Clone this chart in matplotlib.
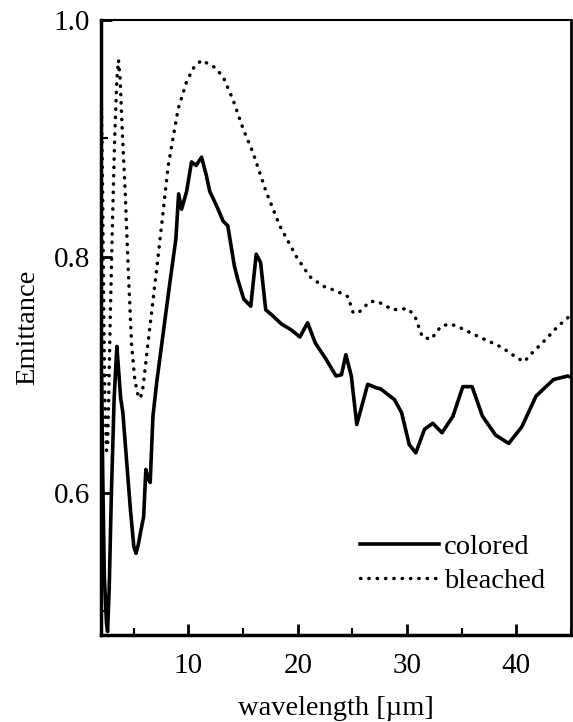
import matplotlib
matplotlib.use("Agg")
import matplotlib.pyplot as plt
from matplotlib.ticker import MultipleLocator

plt.rcParams['font.family'] = ['Liberation Serif', 'DejaVu Serif']

# colored sample
wl_colored = [2.05, 2.15, 2.3, 2.5, 2.6, 2.75, 2.95, 3.2, 3.45, 3.6, 3.8, 4.0, 4.35,
              4.7, 5.0, 5.2, 5.4, 5.6, 5.9, 6.1, 6.3, 6.5, 6.75, 7.1, 7.7, 8.3, 8.85,
              9.1, 9.37, 9.83, 10.28, 10.7, 11.2, 11.65, 11.95, 12.57, 13.17, 13.6,
              14.2, 14.5, 15.06, 15.7, 16.2, 16.6, 17.07, 17.7, 18.5, 19.4, 20.2,
              20.9, 21.6, 22.6, 23.5, 24.0, 24.4, 24.9, 25.4, 26.4, 27.2, 27.6,
              28.85, 29.5, 30.2, 30.8, 31.6, 32.35, 33.2, 34.2, 35.1, 35.95, 36.9,
              38.1, 39.3, 40.5, 41.8, 43.4, 44.7, 45.0]
em_colored = [0.700, 0.620, 0.530, 0.490, 0.483, 0.520, 0.600, 0.680, 0.724, 0.705,
              0.680, 0.668, 0.626, 0.585, 0.555, 0.549, 0.556, 0.566, 0.580, 0.620,
              0.612, 0.609, 0.665, 0.694, 0.736, 0.778, 0.815, 0.853, 0.840, 0.855,
              0.880, 0.877, 0.884, 0.868, 0.855, 0.843, 0.830, 0.826, 0.792, 0.781,
              0.764, 0.758, 0.802, 0.795, 0.755, 0.750, 0.743, 0.738, 0.732, 0.744,
              0.727, 0.713, 0.699, 0.700, 0.717, 0.699, 0.658, 0.692, 0.689, 0.688,
              0.679, 0.668, 0.641, 0.634, 0.654, 0.659, 0.651, 0.665, 0.690, 0.690,
              0.665, 0.649, 0.642, 0.656, 0.682, 0.696, 0.699, 0.698]

# bleached sample
wl_bleached = [2.05, 2.15, 2.25, 2.35, 2.5, 2.6, 2.7, 2.85, 3.05, 3.25, 3.45, 3.6,
               3.75, 3.95, 4.2, 4.5, 4.8, 5.1, 5.4, 5.6, 5.85, 6.3, 7.2, 8.15, 9.06,
               9.83, 10.5, 11.2, 12.4, 13.17, 14.1, 15.0, 15.9, 17.1, 18.35, 19.87,
               21.1, 22.3, 23.5, 24.6, 25.05, 25.5, 26.6, 27.3, 28.7, 30.05, 30.7,
               31.4, 32.2, 33.1, 33.9, 34.6, 36.6, 37.8, 38.7, 39.96, 40.7, 41.5,
               42.7, 43.8, 44.8, 45.0]
em_bleached = [0.925, 0.850, 0.750, 0.680, 0.636, 0.640, 0.680, 0.750, 0.830, 0.900,
               0.950, 0.966, 0.950, 0.905, 0.857, 0.787, 0.725, 0.695, 0.682, 0.680,
               0.690, 0.727, 0.798, 0.877, 0.925, 0.948, 0.960, 0.966, 0.960, 0.952,
               0.932, 0.908, 0.888, 0.855, 0.826, 0.800, 0.783, 0.775, 0.771, 0.766,
               0.753, 0.752, 0.762, 0.762, 0.755, 0.756, 0.750, 0.732, 0.730, 0.741,
               0.743, 0.741, 0.732, 0.727, 0.723, 0.715, 0.711, 0.719, 0.730, 0.741,
               0.749, 0.750]

fig = plt.figure(figsize=(5.73, 7.22), dpi=100)
ax = fig.add_axes([0.1763, 0.1205, 0.8202, 0.8518])

ax.plot(wl_colored, em_colored, color='black', lw=2.6, label='colored')
ax.plot(wl_bleached, em_bleached, color='black', lw=2.5, linestyle=(0, (0.1, 2.3)),
        dash_capstyle='round', label='bleached')

ax.set_xlim(2, 45)
ax.set_ylim(0.48, 1.0)
ax.xaxis.set_major_locator(MultipleLocator(10))
ax.xaxis.set_minor_locator(MultipleLocator(5))
ax.yaxis.set_major_locator(MultipleLocator(0.2))
ax.yaxis.set_minor_locator(MultipleLocator(0.1))
ax.tick_params(which='major', direction='in', length=8, width=2, labelsize=21, pad=13)
ax.tick_params(which='minor', direction='in', length=5, width=1.5)
ax.tick_params(axis='y', which='major', pad=8)

for side in ['left', 'bottom']:
    ax.spines[side].set_linewidth(2.5)
ax.spines['right'].set_linewidth(2)
ax.spines['top'].set_linewidth(1.5)

ax.set_xlabel('wavelength [µm]', fontsize=20.5, labelpad=12)
ax.set_ylabel('Emittance', fontsize=20.5, labelpad=10)

leg = ax.legend(loc='lower right', bbox_to_anchor=(1.0, 0.025), frameon=False,
                fontsize=20.5, handlelength=2.75, handletextpad=0.2, labelspacing=0.3)

fig.savefig('out.png', dpi=100)
